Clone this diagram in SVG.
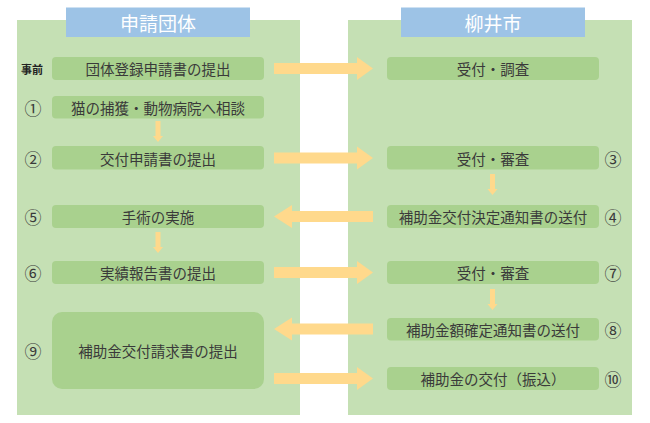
<svg xmlns="http://www.w3.org/2000/svg" width="650" height="423" viewBox="0 0 650 423">
<style>
.panel{fill:#c5e0b4}
.head{fill:#9dc3e6}
.htxt{font-family:"Noto Sans CJK JP","Noto Sans",sans-serif;font-size:19px;fill:#ffffff;text-anchor:middle;dominant-baseline:central}
.box{fill:#a9d18e}
.txt{font-family:"Noto Sans CJK JP","Noto Sans",sans-serif;font-size:14.5px;fill:#3a3a3a;text-anchor:middle;dominant-baseline:central}
.num{font-family:"Noto Sans CJK JP","Noto Sans",sans-serif;font-size:17px;fill:#3a3a3a;text-anchor:middle;dominant-baseline:central}
.pre{font-family:"Noto Sans CJK JP","Noto Sans",sans-serif;font-size:11px;font-weight:bold;fill:#222;text-anchor:middle;dominant-baseline:central}
.arr{fill:#ffd98c}
</style>
<rect width="650" height="423" fill="#ffffff"/>
<g id="panel-left">
<rect class="panel" x="17" y="20" width="283" height="395"/>
<rect class="head" x="66" y="7.5" width="184" height="29.5"/>
<text class="htxt" x="158" y="22">申請団体</text>
</g>
<g id="panel-right">
<rect class="panel" x="348" y="20" width="284" height="395"/>
<rect class="head" x="401" y="7.5" width="184" height="29.5"/>
<text class="htxt" x="493" y="22">柳井市</text>
</g>
<g id="n-pre-left">
<text class="pre" x="32" y="68.5">事前</text>
<rect class="box" x="52" y="57" width="212" height="23" rx="4"/>
<text class="txt" x="158" y="68.5">団体登録申請書の提出</text>
</g>
<g id="n1">
<text class="num" x="33" y="107">①</text>
<rect class="box" x="52" y="96" width="212" height="22.5" rx="4"/>
<text class="txt" x="158" y="107">猫の捕獲・動物病院へ相談</text>
</g>
<g id="n2">
<text class="num" x="33" y="158">②</text>
<rect class="box" x="52" y="146" width="212" height="23.5" rx="4"/>
<text class="txt" x="158" y="158">交付申請書の提出</text>
</g>
<g id="n5">
<text class="num" x="33" y="216.5">⑤</text>
<rect class="box" x="52" y="205" width="212" height="23" rx="4"/>
<text class="txt" x="158" y="216.5">手術の実施</text>
</g>
<g id="n6">
<text class="num" x="33" y="272.5">⑥</text>
<rect class="box" x="52" y="261" width="212" height="23" rx="4"/>
<text class="txt" x="158" y="272.5">実績報告書の提出</text>
</g>
<g id="n9">
<text class="num" x="33" y="350">⑨</text>
<rect class="box" x="52" y="312" width="212" height="77" rx="10"/>
<text class="txt" x="158" y="350.5">補助金交付請求書の提出</text>
</g>
<g id="n-pre-right">
<rect class="box" x="387" y="57" width="212" height="23" rx="4"/>
<text class="txt" x="493" y="68.5">受付・調査</text>
</g>
<g id="n3">
<rect class="box" x="387" y="146" width="212" height="23.5" rx="4"/>
<text class="txt" x="493" y="158">受付・審査</text>
<text class="num" x="613" y="158">③</text>
</g>
<g id="n4">
<rect class="box" x="387" y="205" width="212" height="23" rx="4"/>
<text class="txt" x="493" y="216.5">補助金交付決定通知書の送付</text>
<text class="num" x="613" y="216.5">④</text>
</g>
<g id="n7">
<rect class="box" x="387" y="261" width="212" height="23" rx="4"/>
<text class="txt" x="493" y="272.5">受付・審査</text>
<text class="num" x="613" y="272.5">⑦</text>
</g>
<g id="n8">
<rect class="box" x="387" y="318" width="212" height="22.5" rx="4"/>
<text class="txt" x="493" y="329">補助金額確定通知書の送付</text>
<text class="num" x="613" y="329">⑧</text>
</g>
<g id="n10">
<rect class="box" x="387" y="367" width="212" height="23" rx="4"/>
<text class="txt" x="493" y="378.5">補助金の交付（振込）</text>
<text class="num" x="613" y="378.5">⑩</text>
</g>
<g id="connectors">
<polygon class="arr" points="274,63 357,63 357,57 373,68.5 357,80 357,74 274,74"/>
<polygon class="arr" points="274,152.5 357,152.5 357,146.5 373,158 357,169.5 357,163.5 274,163.5"/>
<polygon class="arr" points="373,211 292,211 292,205 274,216.5 292,228 292,222 373,222"/>
<polygon class="arr" points="274,267 357,267 357,261 373,272.5 357,284 357,278 274,278"/>
<polygon class="arr" points="373,323.5 292,323.5 292,317.5 274,329 292,340.5 292,334.5 373,334.5"/>
<polygon class="arr" points="274,373 357,373 357,367 373,378.5 357,390 357,384 274,384"/>
<polygon class="arr" points="155.5,121 160.5,121 160.5,136 163,136 158,142 153,136 155.5,136"/>
<polygon class="arr" points="155.5,232 160.5,232 160.5,247 163,247 158,253 153,247 155.5,247"/>
<polygon class="arr" points="490,174 495,174 495,189 497.5,189 492.5,195 487.5,189 490,189"/>
<polygon class="arr" points="490,289 495,289 495,304 497.5,304 492.5,310 487.5,304 490,304"/>
</g>
</svg>
